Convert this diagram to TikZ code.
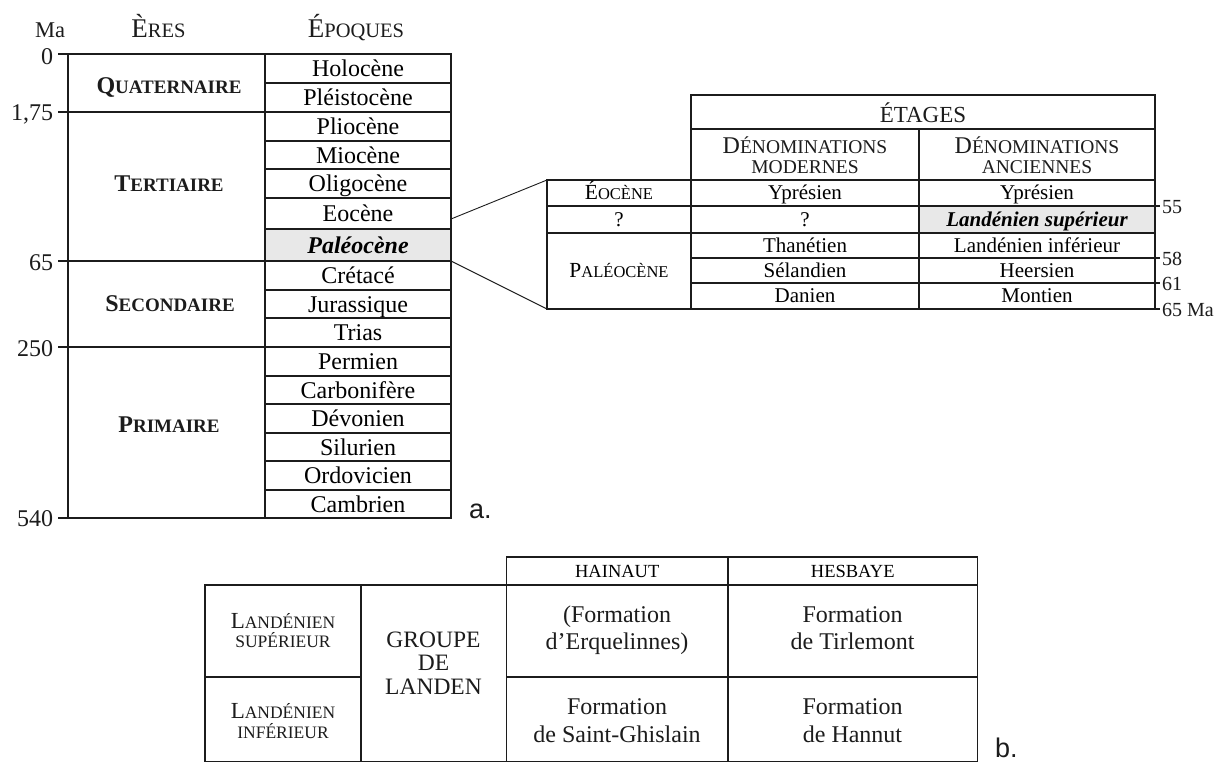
\documentclass[tikz,border=0pt]{standalone}
\usepackage{fontspec}
\setmainfont{Liberation Serif}
\newfontfamily\sansf{Liberation Sans}
\newcommand\fs[1]{\fontsize{#1pt}{#1pt}\selectfont}
\newcommand\fsc[4]{{\fs{#1}#3}{\fs{#2}#4}}
\newcommand\cel[7]{\node[#6, minimum width={#4pt-#2pt}, minimum height={#5pt-#3pt}] (#1) at ({(#2+#4)/2},{(#3+#5)/2}) {#7};}
\definecolor{ink}{HTML}{1C1C1C}
\definecolor{shade}{HTML}{E8E8E8}
\begin{document}
\begin{tikzpicture}[x=1pt,y=-1pt,
  cell/.style={draw=ink,line width=1.5pt,inner sep=0pt,outer sep=0pt,rectangle,text depth=0pt},
  ep/.style={cell,font={\fs{24}},text height=16pt},
  rt/.style={cell,font={\fs{21}},text height=13.9pt},
  hd/.style={cell,font={\fs{18.5}},text height=12.2pt},
  gr/.style={fill=shade},
  txt/.style={inner sep=0pt,outer sep=0pt,anchor=base,text=ink},
  tick/.style={draw=ink,line width=1.5pt},
  link/.style={draw=ink,line width=0.9pt}]
\useasboundingbox (0,0) rectangle (1215,763);
\fill[white] (0,0) rectangle (1215,763);

% ---------- left table headers ----------
\node[txt,font={\fs{22.5}}] (hma) at (50,37) {Ma};
\node[txt] (here) at (158.5,37) {\fsc{27}{20.5}{È}{RES}};
\node[txt] (hepo) at (356,37) {\fsc{27}{20.5}{É}{POQUES}};

% ---------- eras ----------
\cel{quat}{68}{54}{265}{112}{cell}{}
\cel{tert}{68}{112}{265}{261}{cell}{}
\cel{seco}{68}{261}{265}{347}{cell}{}
\cel{prim}{68}{347}{265}{518}{cell}{}
\node[txt,font={\bfseries}] (tq) at (169,93) {\fsc{24}{19}{Q}{UATERNAIRE}};
\node[txt,font={\bfseries}] (tt) at (169,191.5) {\fsc{24}{19}{T}{ERTIAIRE}};
\node[txt,font={\bfseries}] (ts) at (170,311) {\fsc{24}{19}{S}{ECONDAIRE}};
\node[txt,font={\bfseries}] (tp) at (169,432.5) {\fsc{24}{19}{P}{RIMAIRE}};

% ---------- epochs ----------
\cel{holo}{265}{54}{451}{83}{ep}{Holocène}
\cel{plei}{265}{83}{451}{112}{ep}{Pléistocène}
\cel{plio}{265}{112}{451}{141}{ep}{Pliocène}
\cel{mioc}{265}{141}{451}{169}{ep}{Miocène}
\cel{olig}{265}{169}{451}{198}{ep}{Oligocène}
\cel{eocL}{265}{198}{451}{229}{ep}{Eocène}
\cel{palL}{265}{229}{451}{261}{ep,gr}{\bfseries\itshape Paléocène}
\cel{cret}{265}{261}{451}{290}{ep}{Crétacé}
\cel{jura}{265}{290}{451}{318}{ep}{Jurassique}
\cel{tria}{265}{318}{451}{347}{ep}{Trias}
\cel{perm}{265}{347}{451}{376}{ep}{Permien}
\cel{carb}{265}{376}{451}{404}{ep}{Carbonifère}
\cel{devo}{265}{404}{451}{433}{ep}{Dévonien}
\cel{silu}{265}{433}{451}{461}{ep}{Silurien}
\cel{ordo}{265}{461}{451}{490}{ep}{Ordovicien}
\cel{camb}{265}{490}{451}{518}{ep}{Cambrien}

% ---------- Ma ticks ----------
\draw[tick] ([xshift=-10pt]quat.north west) -- (quat.north west);
\draw[tick] ([xshift=-10pt]tert.north west) -- (tert.north west);
\draw[tick] ([xshift=-10pt]seco.north west) -- (seco.north west);
\draw[tick] ([xshift=-10pt]prim.north west) -- (prim.north west);
\draw[tick] ([xshift=-10pt]prim.south west) -- (prim.south west);
\node[txt,anchor=base east,font={\fs{24}}] (m0) at (53,64) {0};
\node[txt,anchor=base east,font={\fs{24}}] (m1) at (53,120) {1,75};
\node[txt,anchor=base east,font={\fs{24}}] (m65) at (53,270) {65};
\node[txt,anchor=base east,font={\fs{24}}] (m250) at (53,356) {250};
\node[txt,anchor=base east,font={\fs{24}}] (m540) at (53,526) {540};
\node[txt,anchor=base west,font={\sansf\fs{27}}] (la) at (469,518) {a.};

% ---------- right table ----------
\cel{etag}{691}{95}{1155}{129}{cell}{}
\node[txt,font={\fs{23}}] (tetag) at (923,122) {ÉTAGES};
\cel{dmod}{691}{129}{919}{180}{cell}{}
\cel{danc}{919}{129}{1155}{180}{cell}{}
\node[txt] (tdm1) at (805,153) {\fsc{24}{19.5}{D}{ÉNOMINATIONS}};
\node[txt,font={\fs{19.5}}] (tdm2) at (805,173) {MODERNES};
\node[txt] (tda1) at (1037,153) {\fsc{24}{19.5}{D}{ÉNOMINATIONS}};
\node[txt,font={\fs{19.5}}] (tda2) at (1037,173) {ANCIENNES};

\cel{eocR}{547}{180}{691}{206}{rt}{\fsc{21.5}{16.5}{É}{OCÈNE}}
\cel{qR}{547}{206}{691}{233}{rt}{?}
\cel{palR}{547}{233}{691}{309}{rt}{\fsc{21.5}{16.5}{P}{ALÉOCÈNE}}

\cel{ypr1}{691}{180}{919}{206}{rt}{Yprésien}
\cel{q2}{691}{206}{919}{233}{rt}{?}
\cel{than}{691}{233}{919}{258}{rt}{Thanétien}
\cel{sela}{691}{258}{919}{283}{rt}{Sélandien}
\cel{dani}{691}{283}{919}{309}{rt}{Danien}

\cel{ypr2}{919}{180}{1155}{206}{rt}{Yprésien}
\cel{lsup}{919}{206}{1155}{233}{rt,gr}{\bfseries\itshape Landénien supérieur}
\cel{linf}{919}{233}{1155}{258}{rt}{Landénien inférieur}
\cel{heer}{919}{258}{1155}{283}{rt}{Heersien}
\cel{mont}{919}{283}{1155}{309}{rt}{Montien}

\draw[tick] (lsup.north east) -- ([xshift=5pt]lsup.north east);
\draw[tick] (linf.south east) -- ([xshift=5pt]linf.south east);
\draw[tick] (heer.south east) -- ([xshift=5pt]heer.south east);
\draw[tick] (mont.south east) -- ([xshift=5pt]mont.south east);
\node[txt,anchor=base west,font={\fs{20}}] (a55) at (1162,213.5) {55};
\node[txt,anchor=base west,font={\fs{20}}] (a58) at (1162,265) {58};
\node[txt,anchor=base west,font={\fs{20}}] (a61) at (1162,290) {61};
\node[txt,anchor=base west,font={\fs{20}}] (a65) at (1162,316) {65 Ma};

% ---------- zoom connectors ----------
\draw[link] ([yshift=-5.5pt]eocL.east) -- (eocR.north west);
\draw[link] (palL.south east) -- (palR.south west);

% ---------- bottom table ----------
\cel{hain}{506.5}{557}{728}{585}{hd}{HAINAUT}
\cel{hesb}{728}{557}{977.5}{585}{hd}{HESBAYE}
\cel{blsup}{205}{585}{361}{677}{cell}{}
\cel{blinf}{205}{677}{361}{761.5}{cell}{}
\cel{bgrp}{361}{585}{506.5}{761.5}{cell}{}
\cel{berq}{506.5}{585}{728}{677}{cell}{}
\cel{btir}{728}{585}{977.5}{677}{cell}{}
\cel{bsgh}{506.5}{677}{728}{761.5}{cell}{}
\cel{bhan}{728}{677}{977.5}{761.5}{cell}{}

\node[txt] (s1) at (283,628) {\fsc{23}{17.5}{L}{ANDÉNIEN}};
\node[txt,font={\fs{17.5}}] (s2) at (283,647) {SUPÉRIEUR};
\node[txt] (i1) at (283,718) {\fsc{23}{17.5}{L}{ANDÉNIEN}};
\node[txt,font={\fs{17.5}}] (i2) at (283,738) {INFÉRIEUR};

\node[txt,font={\fs{23.5}}] (g1) at (433.5,647) {GROUPE};
\node[txt,font={\fs{23.5}}] (g2) at (433.5,670.5) {DE};
\node[txt,font={\fs{23.5}}] (g3) at (433.5,694) {LANDEN};

\node[txt,font={\fs{24}}] (e1) at (617,622) {(Formation};
\node[txt,font={\fs{24}}] (e2) at (617,649) {d’Erquelinnes)};
\node[txt,font={\fs{24}}] (t1) at (852.5,622) {Formation};
\node[txt,font={\fs{24}}] (t2) at (852.5,649) {de Tirlemont};
\node[txt,font={\fs{24}}] (h1) at (617,714) {Formation};
\node[txt,font={\fs{24}}] (h2) at (617,742) {de Saint-Ghislain};
\node[txt,font={\fs{24}}] (n1) at (852.5,714) {Formation};
\node[txt,font={\fs{24}}] (n2) at (852.5,742) {de Hannut};

\node[txt,anchor=base west,font={\sansf\fs{27}}] (lb) at (995,757) {b.};
\end{tikzpicture}
\end{document}
